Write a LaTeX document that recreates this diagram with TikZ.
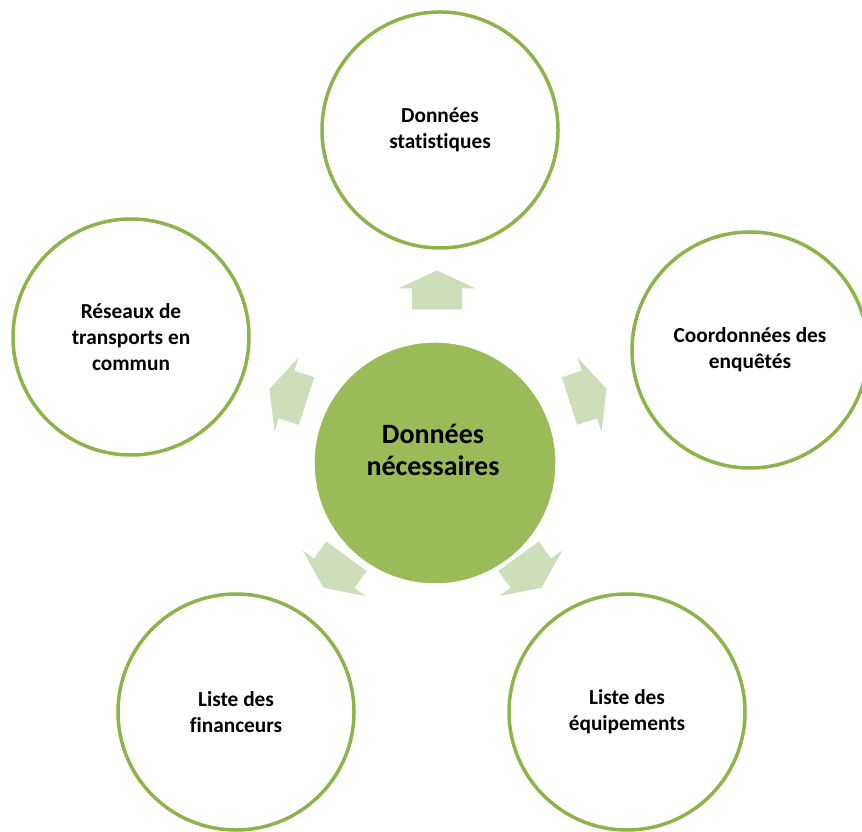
\documentclass[tikz,border=0pt]{standalone}
\usepackage{fontspec}
\setmainfont{Carlito}[Ligatures=NoCommon]
\definecolor{ringgreen}{RGB}{141,180,74}
\definecolor{coregreen}{RGB}{155,187,89}
\definecolor{arrowgreen}{RGB}{206,221,186}
\tikzset{
  outer/.style={circle,draw=ringgreen,line width=3.5*0.75pt,fill=white,minimum size=236*0.75pt,inner sep=0pt,align=center,font=\bfseries\fontsize{16}{19.5}\selectfont},
  core/.style={circle,fill=coregreen,draw=coregreen,minimum size=240*0.75pt,inner sep=0pt},
  coretext/.style={align=center,inner sep=0pt,font=\bfseries\fontsize{21}{24}\selectfont},
  blockarrow/.style={fill=arrowgreen}
}
\begin{document}
\begin{tikzpicture}[x=0.75pt,y=0.75pt]
\useasboundingbox (0,0) rectangle (862,831);
\node[core] (c) at (435,368) {};
\node[coretext] (ct) at (433,381) {Données\\nécessaires};
\node[outer] (t) at (440,701) {Données\\statistiques};
\node[outer] (r) at (750,481) {Coordonnées des\\enquêtés};
\node[outer] (l) at (131,494) {Réseaux de\\transports en\\commun};
\node[outer] (bl) at (236,119) {Liste des\\financeurs};
\node[outer] (br) at (627,119) {Liste des\\équipements};
\coordinate (at) at (437,541);
\coordinate (ar) at (588,436);
\coordinate (al) at (288,436);
\coordinate (abl) at (335,259);
\coordinate (abr) at (530,259);
\foreach \p/\a in {at/90,ar/18,al/162,abl/-126,abr/-54}{
  \fill[blockarrow,shift={(\p)},rotate=\a] (-19.5,-25) -- (1.5,-25) -- (1.5,-39) -- (19.5,0) -- (1.5,39) -- (1.5,25) -- (-19.5,25) -- cycle;
}
\end{tikzpicture}
\end{document}
